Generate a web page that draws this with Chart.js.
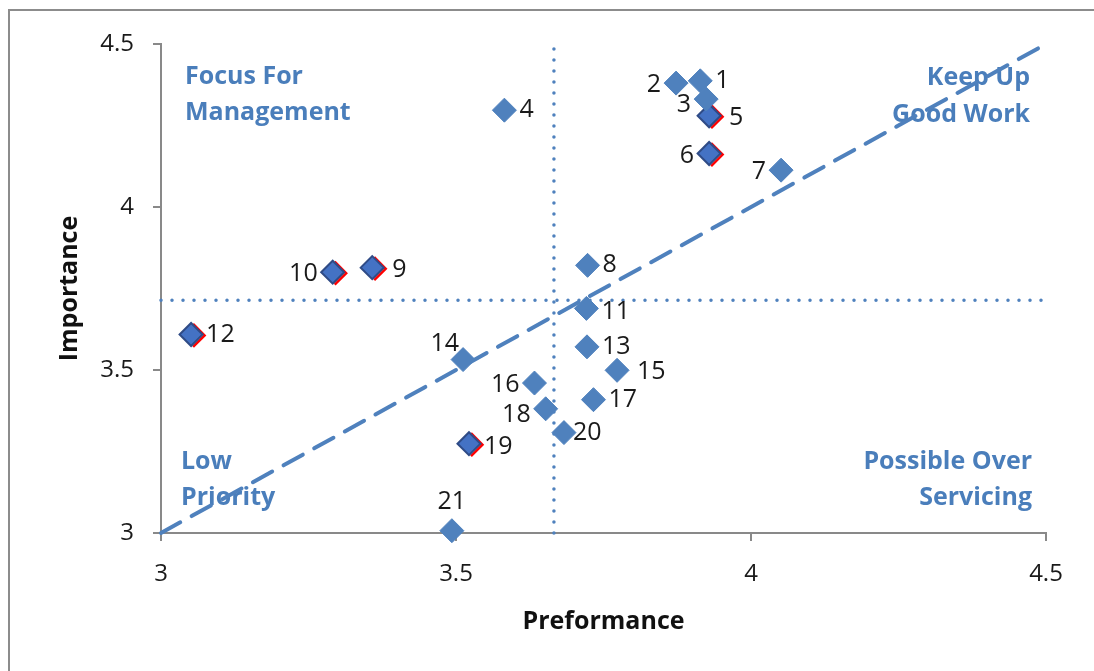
<!DOCTYPE html>
<html>
<head>
    <meta charset="utf-8">
    <title>Importance vs Preformance</title>
    <script src="https://cdn.jsdelivr.net/npm/chart.js"></script>
    <style>
        body {
            margin: 0;
            background-color: #ffffff;
            font-family: "Open Sans", sans-serif;
        }
        #wrap {
            width: 1094px;
            height: 671px;
        }
    </style>
</head>
<body>
    <div id="wrap">
        <canvas id="myChart" width="1094" height="671"></canvas>
    </div>
    <script>
        // data
        var pointIds = ['1','2','3','4','5','6','7','8','9','10','11','12','13','14','15','16','17','18','19','20','21'];
        var performance = [3.914, 3.873, 3.924, 3.582, 3.929, 3.929, 4.051, 3.723, 3.358, 3.291, 3.721, 3.051, 3.722, 3.512, 3.773, 3.633, 3.733, 3.652, 3.522, 3.683, 3.493];
        var importance = [4.387, 4.380, 4.331, 4.297, 4.280, 4.164, 4.113, 3.821, 3.814, 3.800, 3.689, 3.609, 3.571, 3.532, 3.499, 3.460, 3.409, 3.381, 3.274, 3.308, 3.007];
        var highlighted = ['5','6','9','10','12','19'];
        var avgPerformance = 3.666;
        var avgImportance = 3.714;
        var tickLabels = ['3', '3.5', '4', '4.5'];
        var quadrantNames = [['Focus For', 'Management'], ['Keep Up', 'Good Work'], ['Low', 'Priority'], ['Possible Over', 'Servicing']];

        // where each number sits next to its marker
        var labelSide = ['r','l','lb','r','rf','l','l','r','rf','l','rb','r','r','tl','rf','l','r','lb','rb','rs','t'];

        var blue = '#4f81bd';
        var textBlue = '#4a7ebb';
        var axisGray = '#898989';

        var normalPts = [], hiPts = [];
        pointIds.forEach(function (id, i) {
            var p = {x: performance[i], y: importance[i]};
            if (highlighted.indexOf(id) >= 0) hiPts.push(p); else normalPts.push(p);
        });

        var framePlugin = {
            id: 'frame',
            beforeDraw: function (chart) {
                var c = chart.ctx;
                c.save();
                c.strokeStyle = '#8c8c8c';
                c.lineWidth = 2;
                c.beginPath();
                c.moveTo(9, 700);
                c.lineTo(9, 10);
                c.lineTo(1100, 10);
                c.stroke();
                c.restore();
            }
        };

        var quadrantPlugin = {
            id: 'quadrants',
            beforeDatasetsDraw: function (chart) {
                var a = chart.chartArea, c = chart.ctx;
                c.save();
                c.fillStyle = textBlue;
                c.font = 'bold 25px "Open Sans"';
                c.textBaseline = 'middle';
                c.textAlign = 'left';
                c.fillText(quadrantNames[0][0], a.left + 24, a.top + 33);
                c.fillText(quadrantNames[0][1], a.left + 24, a.top + 69);
                c.fillText(quadrantNames[2][0], a.left + 20, a.bottom - 71);
                c.fillText(quadrantNames[2][1], a.left + 20, a.bottom - 35);
                c.textAlign = 'right';
                c.fillText(quadrantNames[1][0], a.right - 16, a.top + 34);
                c.fillText(quadrantNames[1][1], a.right - 16, a.top + 71);
                c.fillText(quadrantNames[3][0], a.right - 14, a.bottom - 71);
                c.fillText(quadrantNames[3][1], a.right - 14, a.bottom - 35);
                c.restore();
            }
        };

        var numberPlugin = {
            id: 'numbers',
            afterDatasetsDraw: function (chart) {
                var c = chart.ctx, xs = chart.scales.x, ys = chart.scales.y;
                c.save();
                c.fillStyle = '#1a1a1a';
                c.font = '25px "Open Sans"';
                c.textBaseline = 'middle';
                pointIds.forEach(function (id, i) {
                    var px = xs.getPixelForValue(performance[i]);
                    var py = ys.getPixelForValue(importance[i]);
                    var s = labelSide[i];
                    if (s === 'r') { c.textAlign = 'left'; c.fillText(id, px + 15, py); }
                    else if (s === 'rf') { c.textAlign = 'left'; c.fillText(id, px + 20, py + 2); }
                    else if (s === 'rb') { c.textAlign = 'left'; c.fillText(id, px + 15, py + 3); }
                    else if (s === 'rs') { c.textAlign = 'left'; c.fillText(id, px + 9, py); }
                    else if (s === 'l') { c.textAlign = 'right'; c.fillText(id, px - 15, py + 2); }
                    else if (s === 'lb') { c.textAlign = 'right'; c.fillText(id, px - 15, py + 6); }
                    else if (s === 'tl') { c.textAlign = 'right'; c.fillText(id, px - 4, py - 16); }
                    else if (s === 't') { c.textAlign = 'center'; c.fillText(id, px, py - 29); }
                });
                c.restore();
            }
        };

        // thin red edge on the right side of the highlighted markers
        var redEdgePlugin = {
            id: 'redEdge',
            beforeDatasetDraw: function (chart, args) {
                if (args.index !== 1) return;
                var c = chart.ctx;
                c.save();
                c.strokeStyle = '#ff0000';
                c.lineWidth = 2.5;
                c.lineJoin = 'miter';
                args.meta.data.forEach(function (el) {
                    var r = el.options.radius;
                    c.beginPath();
                    c.moveTo(el.x + 2, el.y - r + 1);
                    c.lineTo(el.x + r + 2, el.y + 1);
                    c.lineTo(el.x + 2, el.y + r + 1);
                    c.stroke();
                });
                c.restore();
            }
        };

        var ctx = document.getElementById('myChart').getContext('2d');
        var chart = new Chart(ctx, {
            type: 'scatter',
            data: {
                datasets: [{
                    label: 'Points',
                    data: normalPts,
                    pointStyle: 'rectRot',
                    pointRadius: 12,
                    backgroundColor: blue,
                    borderColor: blue,
                    borderWidth: 1,
                    clip: false,
                    order: 0
                }, {
                    label: 'Highlighted',
                    data: hiPts,
                    pointStyle: 'rectRot',
                    pointRadius: 11.5,
                    backgroundColor: '#4472c4',
                    borderColor: '#2f4b86',
                    borderWidth: 2,
                    clip: false,
                    order: 0
                }, {
                    label: 'Diagonal',
                    data: [{x: 3, y: 3}, {x: 4.5, y: 4.5}],
                    showLine: true,
                    pointRadius: 0,
                    borderColor: blue,
                    borderWidth: 4,
                    borderDash: [22, 13],
                    borderCapStyle: 'round',
                    clip: false,
                    order: 1
                }, {
                    label: 'Avg performance',
                    data: [{x: avgPerformance, y: 3}, {x: avgPerformance, y: 4.5}],
                    showLine: true,
                    pointRadius: 0,
                    borderColor: blue,
                    borderWidth: 3.5,
                    borderDash: [0, 11],
                    borderCapStyle: 'round',
                    clip: false,
                    order: 1
                }, {
                    label: 'Avg importance',
                    data: [{x: 3, y: avgImportance}, {x: 4.5, y: avgImportance}],
                    showLine: true,
                    pointRadius: 0,
                    borderColor: blue,
                    borderWidth: 3.5,
                    borderDash: [0, 11],
                    borderCapStyle: 'round',
                    clip: false,
                    order: 1
                }]
            },
            options: {
                responsive: false,
                animation: false,
                layout: {
                    padding: {top: 44, right: 48, bottom: 0, left: 0}
                },
                plugins: {
                    legend: {display: false},
                    tooltip: {enabled: false}
                },
                scales: {
                    x: {
                        type: 'linear',
                        min: 3,
                        max: 4.5,
                        afterFit: function (s) { s.height = 138; },
                        afterBuildTicks: function (s) {
                            s.ticks = tickLabels.map(function (t) { return {value: parseFloat(t)}; });
                        },
                        ticks: {
                            color: '#1a1a1a',
                            font: {family: 'Open Sans', size: 24},
                            padding: 19,
                            maxRotation: 0,
                            callback: function (v, i) { return tickLabels[i]; }
                        },
                        grid: {drawOnChartArea: false, tickLength: 8, color: axisGray, lineWidth: 2},
                        border: {color: axisGray, width: 2},
                        title: {
                            display: true,
                            text: 'Preformance',
                            color: '#111',
                            font: {family: 'Open Sans', size: 25, weight: 'bold'},
                            padding: {top: 0, bottom: 34}
                        }
                    },
                    y: {
                        type: 'linear',
                        min: 3,
                        max: 4.5,
                        afterFit: function (s) { s.width = 161; },
                        afterBuildTicks: function (s) {
                            s.ticks = tickLabels.map(function (t) { return {value: parseFloat(t)}; });
                        },
                        ticks: {
                            color: '#1a1a1a',
                            font: {family: 'Open Sans', size: 24},
                            padding: 19,
                            callback: function (v, i) { return tickLabels[i]; }
                        },
                        grid: {drawOnChartArea: false, tickLength: 8, color: axisGray, lineWidth: 2},
                        border: {color: axisGray, width: 2},
                        title: {
                            display: true,
                            text: 'Importance',
                            color: '#111',
                            font: {family: 'Open Sans', size: 25, weight: 'bold'},
                            padding: {top: 55, bottom: 0}
                        }
                    }
                }
            },
            plugins: [framePlugin, quadrantPlugin, redEdgePlugin, numberPlugin]
        });
    </script>
</body>
</html>
